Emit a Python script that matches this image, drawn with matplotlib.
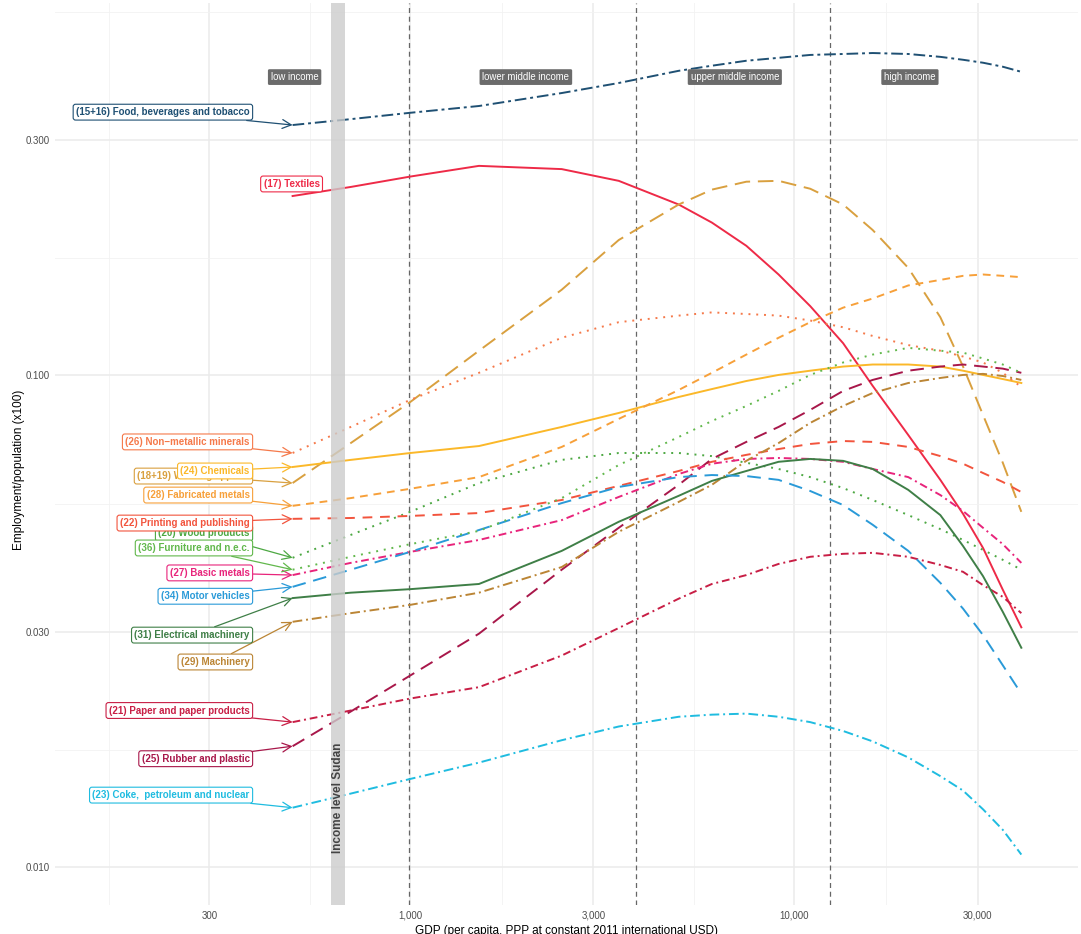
import matplotlib

matplotlib.use("Agg")
import matplotlib.pyplot as plt  # noqa: E402

plt.rcParams["font.family"] = ["Liberation Sans", "DejaVu Sans"]

# GDP per capita (PPP, constant 2011 USD) where the curves were read
gdp = [494, 700, 1000, 1510, 2480, 3490, 5000, 6100, 7500, 9100, 11000,
       13400, 16000, 19800, 24000, 27500, 31000, 34900, 39000]

# employment / population (x100) per sector
food = [0.322, 0.331, 0.341, 0.352, 0.374, 0.392, 0.415, 0.425, 0.435, 0.441, 0.447,
        0.449, 0.451, 0.449, 0.443, 0.437, 0.431, 0.423, 0.413]
textiles = [0.231, 0.241, 0.253, 0.266, 0.262, 0.248, 0.222, 0.204, 0.183, 0.160, 0.138,
            0.116, 0.095, 0.0755, 0.0612, 0.0522, 0.0445, 0.0366, 0.0307]
apparel = [0.0603, 0.0727, 0.0881, 0.112, 0.149, 0.188, 0.222, 0.238, 0.247, 0.248, 0.239,
           0.222, 0.197, 0.165, 0.131, 0.104, 0.0829, 0.0663, 0.0527]
wood = [0.0425, 0.0473, 0.0527, 0.0603, 0.0672, 0.0694, 0.0694, 0.0684, 0.0663, 0.0644, 0.0620,
        0.0589, 0.0557, 0.0519, 0.0486, 0.0462, 0.0441, 0.0421, 0.0402]
paper = [0.0197, 0.0208, 0.0220, 0.0232, 0.0269, 0.0306, 0.0351, 0.0376, 0.0392, 0.0413, 0.0427,
         0.0433, 0.0435, 0.0427, 0.0411, 0.0398, 0.0374, 0.0354, 0.0328]
printing = [0.0510, 0.0512, 0.0517, 0.0524, 0.0557, 0.0595, 0.0638, 0.0666, 0.0688, 0.0707, 0.0724,
            0.0734, 0.0731, 0.0714, 0.0684, 0.0660, 0.0632, 0.0606, 0.0578]
coke = [0.0132, 0.0141, 0.0151, 0.0163, 0.0181, 0.0193, 0.0202, 0.0204, 0.0205, 0.0202, 0.0197,
        0.0189, 0.0180, 0.0167, 0.0153, 0.0143, 0.0131, 0.0119, 0.0106]
chemicals = [0.0650, 0.0672, 0.0694, 0.0717, 0.0784, 0.0837, 0.0902, 0.0936, 0.0972, 0.100, 0.102,
             0.104, 0.105, 0.105, 0.104, 0.102, 0.100, 0.0981, 0.0963]
rubber = [0.0176, 0.0207, 0.0245, 0.0298, 0.0402, 0.0489, 0.0598, 0.0675, 0.0731, 0.0784, 0.0849,
          0.0928, 0.0977, 0.102, 0.104, 0.105, 0.104, 0.103, 0.101]
nonmetallic = [0.0694, 0.0784, 0.0890, 0.101, 0.119, 0.128, 0.132, 0.134, 0.133, 0.132, 0.129,
               0.125, 0.120, 0.115, 0.112, 0.109, 0.106, 0.101, 0.0945]
basic = [0.0392, 0.0415, 0.0437, 0.0462, 0.0507, 0.0565, 0.0629, 0.0660, 0.0675, 0.0678, 0.0675,
         0.0666, 0.0644, 0.0620, 0.0570, 0.0529, 0.0489, 0.0453, 0.0415]
fabricated = [0.0542, 0.0562, 0.0587, 0.0620, 0.0714, 0.0814, 0.0932, 0.101, 0.110, 0.119, 0.128,
              0.137, 0.143, 0.152, 0.156, 0.159, 0.160, 0.159, 0.158]
machinery = [0.0315, 0.0328, 0.0341, 0.0361, 0.0407, 0.0480, 0.0552, 0.0598, 0.0669, 0.0727, 0.0799,
             0.0865, 0.0919, 0.0963, 0.0986, 0.100, 0.1005, 0.0995, 0.0977]
electrical = [0.0352, 0.0361, 0.0367, 0.0376, 0.0439, 0.0503, 0.0568, 0.0609, 0.0638, 0.0666, 0.0675,
              0.0669, 0.0644, 0.0584, 0.0519, 0.0449, 0.0390, 0.0330, 0.0279]
motor = [0.0371, 0.0402, 0.0437, 0.0484, 0.0549, 0.0592, 0.0620, 0.0626, 0.0623, 0.0612, 0.0581,
         0.0544, 0.0496, 0.0439, 0.0378, 0.0335, 0.0296, 0.0257, 0.0225]
furniture = [0.0402, 0.0427, 0.0453, 0.0482, 0.0562, 0.0656, 0.0748, 0.0806, 0.0865, 0.0928, 0.100,
             0.106, 0.110, 0.1135, 0.112, 0.111, 0.108, 0.105, 0.101]

income_groups = ["low income", "lower middle income", "upper middle income", "high income"]
income_thresholds = [995, 3880, 12400]
sudan_gdp = 650

# (label, values, colour, linestyle, label y)
sectors = [
    ("(15+16) Food, beverages and tobacco", food, "#1f5073", (0, (6, 2, 1.5, 2)), 0.342),
    ("(17) Textiles", textiles, "#ee2a47", "-", None),
    ("(18+19) Wearing apparel", apparel, "#d9a03f", (0, (8, 4)), 0.0623),
    ("(20) Wood products", wood, "#4da843", (0, (1, 3)), 0.0477),
    ("(21) Paper and paper products", paper, "#c81e45", (0, (4, 2, 1, 2)), 0.0208),
    ("(22) Printing and publishing", printing, "#f2543d", (0, (5, 4)), 0.0500),
    ("(23) Coke,  petroleum and nuclear", coke, "#1fbce0", (0, (5, 2, 1, 2)), 0.0140),
    ("(24) Chemicals", chemicals, "#fbb829", "-", 0.0638),
    ("(25) Rubber and plastic", rubber, "#a8174a", (0, (7, 4)), 0.0166),
    ("(26) Non\u2212metallic minerals", nonmetallic, "#f5794a", (0, (1, 3)), 0.0731),
    ("(27) Basic metals", basic, "#e8247b", (0, (4, 2, 1, 2)), 0.0396),
    ("(28) Fabricated metals", fabricated, "#f7a03a", (0, (4, 3)), 0.0570),
    ("(29) Machinery", machinery, "#bb8535", (0, (5, 2, 1, 2)), 0.0261),
    ("(31) Electrical machinery", electrical, "#3f7f47", "-", 0.0296),
    ("(34) Motor vehicles", motor, "#2a9ad8", (0, (7, 4)), 0.0355),
    ("(36) Furniture and n.e.c.", furniture, "#62b84c", (0, (1, 3)), 0.0445),
]

fig = plt.figure(figsize=(10.81, 9.34), dpi=100)
ax = fig.add_axes([0.0509, 0.031, 0.9463, 0.9658])
ax.set_xscale("log")
ax.set_yscale("log")
ax.set_xlim(118.9, 54020)
ax.set_ylim(0.00837, 0.570)

for name, vals, col, ls, _ in sectors:
    ax.plot(gdp, vals, color=col, linestyle=ls, lw=1.4, zorder=3)

# income group thresholds and Sudan marker
for t in income_thresholds:
    ax.axvline(t, color="#666666", lw=0.9, linestyle=(0, (4, 3)), zorder=2)
ax.axvspan(sudan_gdp * 0.959, sudan_gdp * 1.043, color="#cccccc", alpha=0.8, lw=0, zorder=4)
ax.text(sudan_gdp, 0.0107, "Income level Sudan", rotation=90, ha="center", va="bottom",
        fontsize=8.5, fontweight="bold", color="#444444", zorder=5)

for name, x in zip(income_groups, [500, 2000, 7000, 20000]):
    ax.text(x, 0.403, name, ha="center", va="center", fontsize=6.9, color="white", zorder=6,
            bbox=dict(boxstyle="round,pad=0.3,rounding_size=0.15", fc="#6b6b6b", ec="none"))

# sector labels with arrows to the first point
box = dict(boxstyle="round,pad=0.3,rounding_size=0.25", fc="white", lw=0.8)
for name, vals, col, ls, ly in sectors:
    if ly is None:
        ax.text(491, 0.2444, name, ha="center", va="center", fontsize=7, fontweight="bold",
                color=col, zorder=7, bbox=dict(box, ec=col))
        continue
    ax.annotate(name, xy=(gdp[0], vals[0]), xytext=(382, ly), ha="right", va="center",
                fontsize=7, fontweight="bold", color=col, zorder=7,
                bbox=dict(box, ec=col),
                arrowprops=dict(arrowstyle="->", color=col, lw=0.9, mutation_scale=16,
                                shrinkA=0, shrinkB=0))

ax.set_xticks([300, 1000, 3000, 10000, 30000])
ax.set_xticklabels(["300", "1,000", "3,000", "10,000", "30,000"])
ax.set_xticks([164.3, 547.7, 1732, 5477, 17320, 54770], minor=True)
ax.set_xticklabels([], minor=True)
ax.set_yticks([0.01, 0.03, 0.1, 0.3])
ax.set_yticklabels(["0.010", "0.030", "0.100", "0.300"])
ax.set_yticks([0.01732, 0.05477, 0.1732, 0.5477], minor=True)
ax.set_yticklabels([], minor=True)
ax.tick_params(which="both", length=0, labelsize=7, colors="#4d4d4d", pad=4)
ax.grid(which="major", color="#ebebeb", lw=1.1, zorder=0)
ax.grid(which="minor", color="#f2f2f2", lw=0.6, zorder=0)
ax.set_axisbelow(True)
for s in ax.spines.values():
    s.set_visible(False)

ax.set_xlabel("GDP (per capita, PPP at constant 2011 international USD)", fontsize=8.5, labelpad=3)
ax.set_ylabel("Employment/population (x100)", fontsize=8.5)
ax.yaxis.set_label_coords(-0.029, 0.483)

fig.savefig("out.png", dpi=100, facecolor="white")
plt.close(fig)
